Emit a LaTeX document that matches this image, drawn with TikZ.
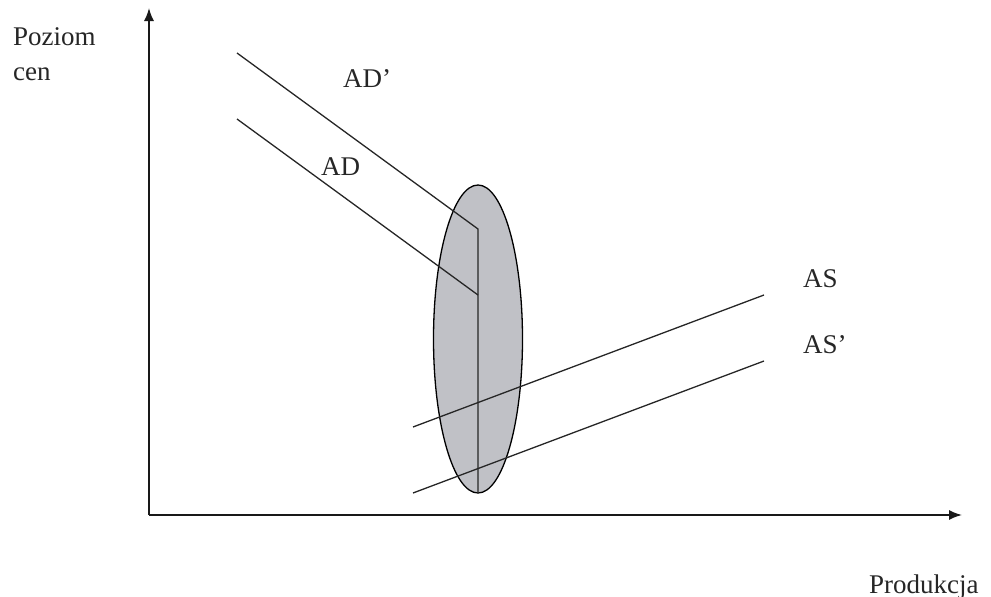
\documentclass[tikz,border=0pt]{standalone}
\usepackage{fontspec}
\setmainfont{Liberation Serif}
\usetikzlibrary{arrows.meta,shapes.geometric}
\definecolor{ellfill}{RGB}{192,193,198}
\tikzset{
  curve/.style={line width=1.3pt, black!85},
  axis/.style={line width=1.6pt, black!90, -{Latex[length=13pt,width=10pt]}},
  lbl/.style={inner sep=0pt, anchor=base west, font=\fontsize{27}{34}\selectfont, text=black!85},
  oval/.style={draw, line width=1.3pt, fill=ellfill, ellipse, inner sep=0pt},
}
\begin{document}
\begin{tikzpicture}[x=1pt,y=-1pt]
\useasboundingbox (0,0) rectangle (991,597);
% ellipse
\node[oval, minimum width=89pt, minimum height=308pt] (ell) at (478,339) {};
% axes
\coordinate (O) at (149,515);
\coordinate (ytop) at (149,8);
\coordinate (xend) at (962,515);
\draw[axis] (O) -- (ytop);
\draw[axis] (O) -- (xend);
% AD curves
\coordinate (adpA) at (237,53);
\coordinate (adpB) at (478,229);
\coordinate (adA) at (237,119);
\coordinate (adB) at (478,295);
\coordinate (vbot) at (478,493);
\draw[curve] (adpA) -- (adpB) -- (vbot);
\draw[curve] (adA) -- (adB);
% AS curves
\coordinate (asA) at (413,427);
\coordinate (asB) at (764,295);
\coordinate (aspA) at (413,493);
\coordinate (aspB) at (764,361);
\draw[curve] (asA) -- (asB);
\draw[curve] (aspA) -- (aspB);
% labels
\node[lbl] (poz) at (13,45) {Poziom};
\node[lbl] (cen) at (13,80) {cen};
\node[lbl] (ladp) at (343,87) {AD’};
\node[lbl] (lad) at (321,175) {AD};
\node[lbl] (las) at (803,287) {AS};
\node[lbl] (lasp) at (803,353) {AS’};
\node[lbl] (prod) at (869,593) {Produkcja};
\end{tikzpicture}
\end{document}
